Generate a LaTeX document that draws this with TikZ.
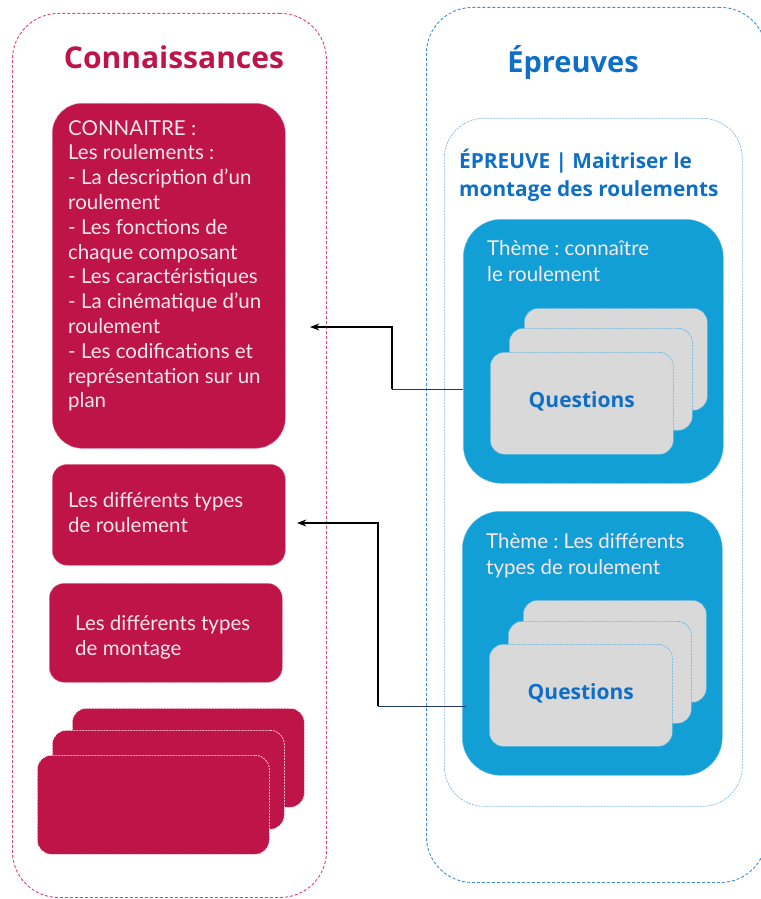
\documentclass[tikz,border=0pt]{standalone}
\usepackage{fontspec}
\setmainfont{Lato}
\newfontfamily\headfont{Open Sans}
\usetikzlibrary{arrows.meta,positioning}
\definecolor{crimson}{RGB}{190,20,72}
\definecolor{frameRed}{RGB}{214,70,115}
\definecolor{themeBlue}{RGB}{17,159,214}
\definecolor{titleBlue}{RGB}{15,111,198}
\definecolor{frameBlue}{RGB}{60,143,212}
\definecolor{cardGray}{RGB}{217,217,217}
\definecolor{cardEdge}{RGB}{90,180,225}
\definecolor{navyLine}{RGB}{32,56,100}
\definecolor{paleText}{RGB}{250,232,238}
\frenchspacing
\begin{document}
\begin{tikzpicture}[
    x=1pt, y=-1pt,
    >=Stealth,
    every node/.style={inner sep=0pt, anchor=north west},
    frame/.style={draw, dash pattern=on 3pt off 2pt, line width=0.9pt, rounded corners=46pt},
    redbox/.style={fill=crimson, draw=crimson!55!white, dash pattern=on 2pt off 1pt, line width=0.6pt},
    redcard/.style={redbox, draw=white, rounded corners=14pt, minimum width=232pt, minimum height=99pt},
    themebox/.style={fill=themeBlue, draw=themeBlue!60!white, dash pattern=on 2pt off 1pt, line width=0.6pt, rounded corners=38pt, minimum width=260pt, minimum height=264pt},
    card/.style={fill=cardGray, draw=cardEdge, dash pattern=on 2pt off 1pt, line width=0.6pt, rounded corners=14pt, minimum width=183pt, minimum height=102pt, anchor=north west},
    bodytext/.style={text=paleText, align=left, font=\fontsize{20.5}{24.8}\selectfont},
    themetext/.style={text=paleText, align=left, font=\fontsize{20.5}{26}\selectfont},
    qtext/.style={text=titleBlue, font=\headfont\fontsize{21}{24}\selectfont\bfseries},
    link/.style={->, line width=1.4pt}
]
\useasboundingbox (0,0) rectangle (760,899);

% left column
\node[frame, draw=frameRed, minimum width=314pt, minimum height=884pt] (know) at (12,13) {};
\node[anchor=base, text=crimson, font=\headfont\fontsize{30}{32}\selectfont\bfseries] (knowTitle) at (174,68) {Connaissances};

\node[redbox, rounded corners=30pt, minimum width=233pt, minimum height=345pt] (connaitre) at (52,103) {};
\node[bodytext] (connaitreText) at (68,120) {CONNAITRE :\\
Les roulements :\\
- La description d’un\\
roulement\\
- Les fonctions de\\
chaque composant\\
- Les caractéristiques\\
- La cinématique d’un\\
roulement\\
- Les codifications et\\
représentation sur un\\
plan};

\node[redbox, rounded corners=15pt, minimum width=233pt, minimum height=101pt] (types) at (52,464) {};
\node[bodytext] (typesText) at (68,492) {Les différents types\\de roulement};

\node[redbox, rounded corners=15pt, minimum width=233pt, minimum height=99pt] (montage) at (49,583) {};
\node[bodytext] (montageText) at (75,615) {Les différents types\\de montage};

\node[redcard] (redBack) at (72,708) {};
\node[redcard] (redMid) at (52,730) {};
\node[redcard] (redFront) at (37,755) {};

% right column
\node[frame, draw=frameBlue, minimum width=340pt, minimum height=875pt] (tests) at (426,7) {};
\node[anchor=base, text=titleBlue, font=\headfont\fontsize{29}{32}\selectfont\bfseries] (testsTitle) at (573,72) {Épreuves};

\node[draw=frameBlue!70!white, dash pattern=on 2pt off 1pt, line width=0.6pt, rounded corners=40pt, minimum width=298pt, minimum height=688pt] (exam) at (444,118) {};
\node[text=titleBlue, align=left, font=\headfont\fontsize{20.8}{28}\selectfont\bfseries] (examTitle) at (459,149) {ÉPREUVE | Maitriser le\\montage des roulements};

\node[themebox] (themeOne) at (463,219) {};
\node[themetext] (themeOneText) at (487,240) {Thème : connaître\\le roulement};
\node[card] (qOneBack) at (524,308) {};
\node[card] (qOneMid) at (509,328) {};
\node[card, qtext, anchor=north west, text depth=8pt] (qOne) at (490,352) {Questions};

\node[themebox] (themeTwo) at (462,511) {};
\node[themetext] (themeTwoText) at (486,533) {Thème : Les différents\\types de roulement};
\node[card] (qTwoBack) at (523,600) {};
\node[card] (qTwoMid) at (508,621) {};
\node[card, qtext, anchor=north west, text depth=8pt] (qTwo) at (489,644) {Questions};

% links
\coordinate (tipOne) at (310,327);
\coordinate (tipTwo) at (297,523);
\draw[navyLine, line width=1.4pt] ([yshift=-38pt]themeOne.west) -- ++(-71,0) coordinate (bendOne);
\draw[link] (bendOne) |- (tipOne);
\draw[navyLine, line width=1.4pt] ([yshift=-63pt,xshift=4pt]themeTwo.west) -- ++(-88,0) coordinate (bendTwo);
\draw[link] (bendTwo) |- (tipTwo);
\end{tikzpicture}
\end{document}
